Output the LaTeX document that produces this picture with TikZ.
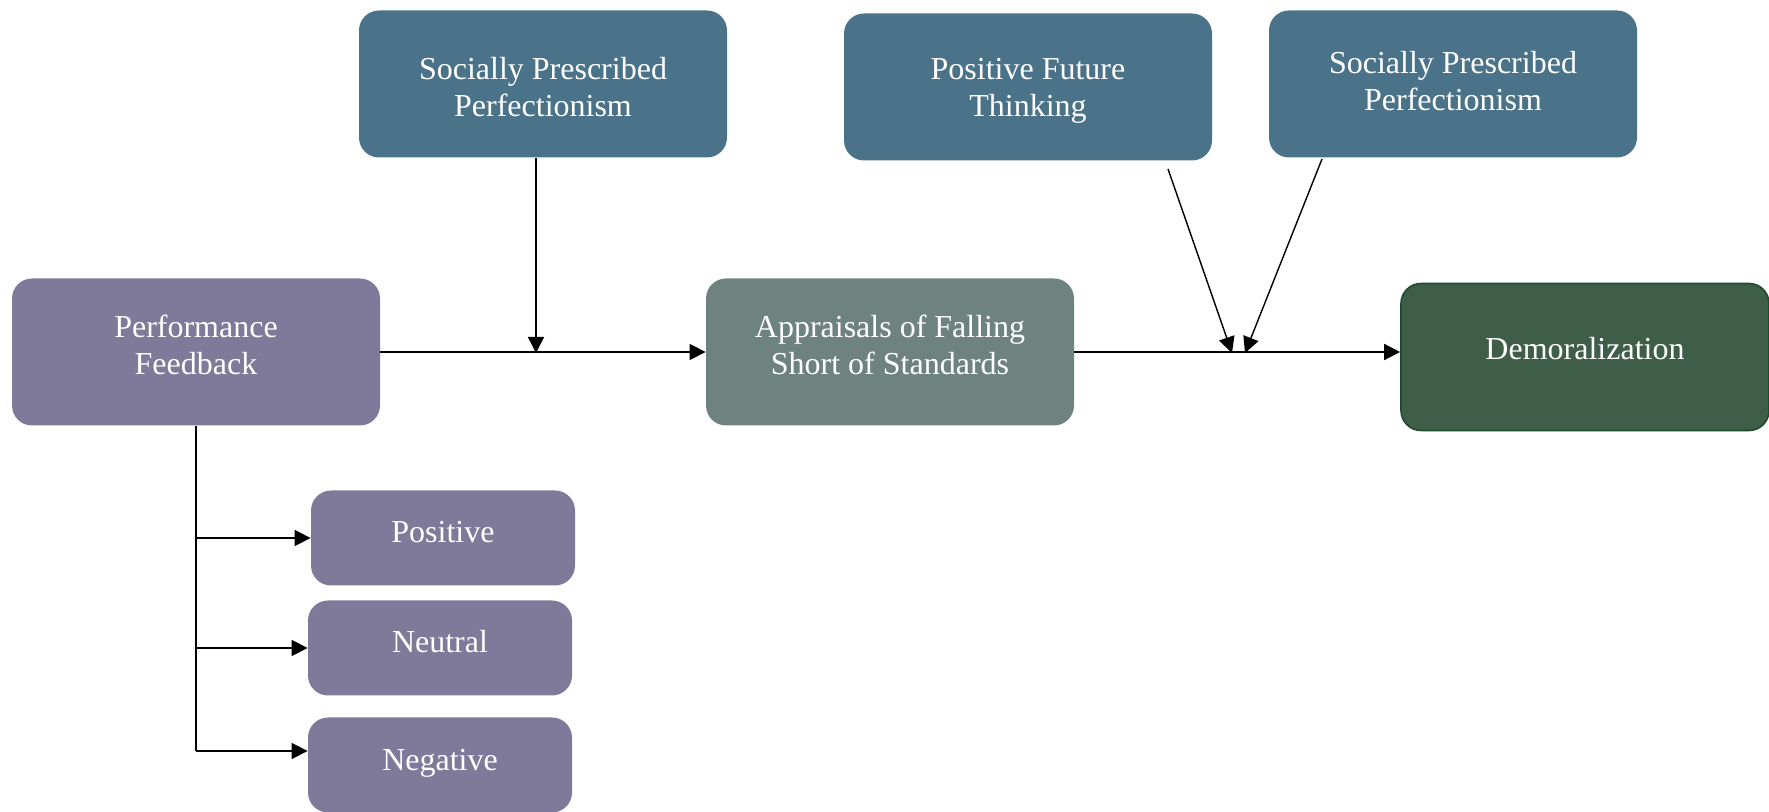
\documentclass[tikz,border=0pt]{standalone}
\usepackage{fontspec}
\setmainfont{Liberation Serif}
\usetikzlibrary{arrows.meta,positioning}

\definecolor{fbpurple}{HTML}{7F7A9A}
\definecolor{modblue}{HTML}{4A7389}
\definecolor{apgray}{HTML}{6E8280}
\definecolor{demgreen}{HTML}{3E5E4A}
\definecolor{demedge}{HTML}{1F4A2C}

\begin{document}
\begin{tikzpicture}[x=0.5pt,y=-0.5pt,
  box/.style={rounded corners=10pt, text=white, align=center, inner sep=0pt,
    minimum width=184pt, minimum height=73.5pt, font=\fontsize{16}{18.5}\selectfont},
  smallbox/.style={box, fill=fbpurple, minimum width=132pt, minimum height=47.5pt, oneline=6pt},
  oneline/.style={text height=11pt, text depth=#1},
  twoline/.style={text height=29.5pt, text depth=#1},
  arr/.style={-{Triangle[length=8pt,width=8pt]}, line width=0.7pt}]
  \useasboundingbox (0,0) rectangle (1769,812);

  % main boxes
  \node[box, fill=fbpurple, twoline=7.4pt] (feedback) at (196,352) {Performance\\Feedback};
  \node[box, fill=apgray, twoline=7.4pt] (appraisal) at (890,352) {Appraisals of Falling\\Short of Standards};
  \node[box, fill=demgreen, draw=demedge, line width=0.8pt, oneline=8pt] (demoral) at (1585,357) {Demoralization};

  % moderators
  \node[box, fill=modblue, twoline=0pt, text height=32.3pt] (spp1) at (543,84) {Socially Prescribed\\Perfectionism};
  \node[box, fill=modblue, twoline=0pt] (pft) at (1028,87) {Positive Future\\Thinking};
  \node[box, fill=modblue, twoline=2.8pt] (spp2) at (1453,84) {Socially Prescribed\\Perfectionism};

  % feedback types
  \node[smallbox] (positive) at (443,538) {Positive};
  \node[smallbox] (neutral) at (440,648) {Neutral};
  \node[smallbox] (negative) at (440,765) {Negative};

  % meeting points on the main path
  \coordinate (m1) at (536,353);
  \coordinate (m2) at (1232,353);
  \coordinate (m3) at (1245,353);
  \coordinate (pftout) at (1168,169);
  \coordinate (spp2out) at (1322,159);
  \coordinate (fbend) at (196,751);

  % main path
  \draw[arr] (feedback.east) -- (appraisal.west);
  \draw[arr] (appraisal.east) -- (appraisal.east -| demoral.west);

  % moderator arrows
  \draw[arr] (spp1.south -| m1) -- (m1);
  \draw[arr] (pftout) -- (m2);
  \draw[arr] (spp2out) -- (m3);

  % branches to feedback types
  \draw[line width=0.7pt] (feedback.south) -- (fbend);
  \draw[arr] (feedback.south |- positive.west) -- (positive.west);
  \draw[arr] (feedback.south |- neutral.west) -- (neutral.west);
  \draw[arr] (fbend) -- (fbend -| negative.west);
\end{tikzpicture}
\end{document}
